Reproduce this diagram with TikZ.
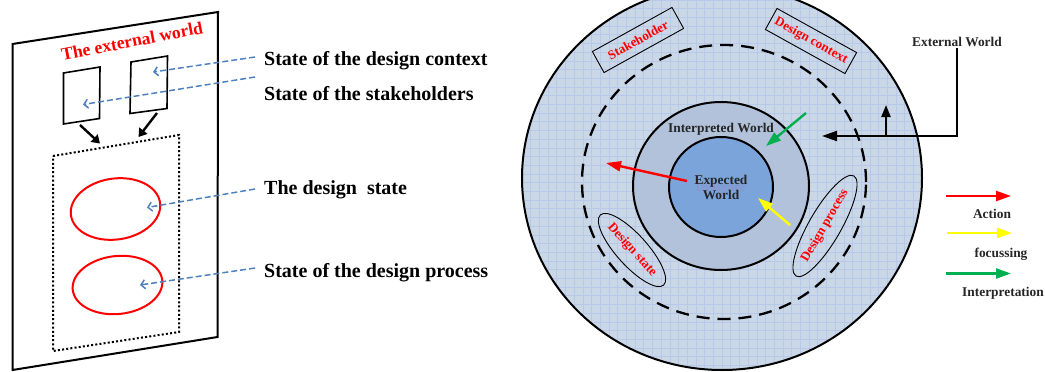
\documentclass[tikz,border=0pt]{standalone}
\usepackage{fontspec}
\setmainfont{Liberation Serif}
\usetikzlibrary{arrows.meta,shapes.geometric}
\definecolor{outerfill}{HTML}{CAD7E7}
\definecolor{gridc}{HTML}{B7C8E8}
\definecolor{interfill}{HTML}{B2C2DA}
\definecolor{expfill}{HTML}{7AA4DA}
\definecolor{dblue}{HTML}{4F81BD}
\definecolor{lred}{HTML}{FF0000}
\definecolor{lyellow}{HTML}{FFFF00}
\definecolor{lgreen}{HTML}{00B050}
\definecolor{ghost}{HTML}{8C95CC}
\begin{document}
\begin{tikzpicture}[x=1pt,y=-1pt,
  bigtext/.style={font=\bfseries\fontsize{20}{22}\selectfont, inner sep=0pt},
  lbl/.style={font=\bfseries\fontsize{13.4}{14.5}\selectfont, inner sep=1.5pt},
  redlbl/.style={font=\bfseries\fontsize{13}{14}\selectfont, text=lred, inner sep=0pt},
  bluearrow/.style={dblue, line width=1.5pt, dash pattern=on 6pt off 3pt, -{Straight Barb[length=4pt,width=9pt]}},
  blkarrow/.style={black, line width=2.4pt, -{Triangle[length=8pt,width=10pt]}},
  actarrow/.style={line width=2.4pt, -{Triangle[length=15pt,width=10pt]}},
  extline/.style={black, line width=2.2pt},
]
\useasboundingbox (0,0) rectangle (1045,372);

% ---------------- left panel ----------------
\draw[line width=2pt, line join=miter] (12.5,44) -- (218,12) -- (217.5,337) -- (12.5,370) -- cycle;
\node[font=\bfseries\fontsize{17.6}{18}\selectfont, text=lred, rotate=11, inner sep=0pt] (tew) at (132,41) {The external world};
\draw[line width=1.6pt] (63.5,73) -- (100,67) -- (99.5,118.5) -- (63.5,124) -- cycle;
\draw[line width=1.6pt] (131,62) -- (167.5,56) -- (167,108.5) -- (130,113.5) -- cycle;
\draw[line width=2pt, dash pattern=on 2pt off 2.2pt] (53,156) -- (179,135) -- (179,332) -- (53,351) -- cycle;
\node[draw=lred, ellipse, line width=2pt, rotate=8, minimum width=90pt, minimum height=61pt, inner sep=0pt] (e1) at (115.5,209) {};
\node[draw=lred, ellipse, line width=2pt, rotate=6, minimum width=90pt, minimum height=58pt, inner sep=0pt] (e2) at (117.5,285) {};

\coordinate (b1s) at (80,125);  \coordinate (b1e) at (100,143.5);
\coordinate (b2s) at (157,113); \coordinate (b2e) at (138.5,137);
\draw[blkarrow] (b1s) -- (b1e);
\draw[blkarrow] (b2s) -- (b2e);

\node[bigtext, anchor=base west] (t1) at (264,65) {State of the design context};
\node[bigtext, anchor=base west] (t2) at (264,100) {State of the stakeholders};
\node[bigtext, anchor=base west] (t3) at (264,194) {The design\ \ state};
\node[bigtext, anchor=base west] (t4) at (264,277) {State of the design process};

\coordinate (a1s) at (255,57);  \coordinate (a1e) at (153,72);
\coordinate (a2s) at (255,77);  \coordinate (a2e) at (83,104.5);
\coordinate (a3s) at (255,189); \coordinate (a3e) at (147,207.5);
\coordinate (a4s) at (255,268); \coordinate (a4e) at (140,285);
\draw[bluearrow] (a1s) -- (a1e);
\draw[bluearrow] (a2s) -- (a2e);
\draw[bluearrow] (a3s) -- (a3e);
\draw[bluearrow] (a4s) -- (a4e);

% ---------------- right panel ----------------
\fill[outerfill] (722,178) ellipse [x radius=200pt, y radius=192pt];
\begin{scope}
  \clip (722,178) ellipse [x radius=200pt, y radius=192pt];
  \draw[gridc, line width=0.8pt, step=8.7pt] (500,-20) grid (940,380);
\end{scope}
\draw[line width=2pt] (722,178) ellipse [x radius=200pt, y radius=192pt];
\draw[line width=2.3pt, dash pattern=on 13pt off 8pt] (724,182) ellipse [x radius=142pt, y radius=137pt];

\node[draw, ellipse, line width=2pt, fill=interfill, minimum width=176pt, minimum height=168pt, inner sep=0pt] (iw) at (721,186) {};
\node[draw, ellipse, line width=2pt, fill=expfill, minimum width=104pt, minimum height=100pt, inner sep=0pt] (ew) at (721,187) {};
\node[lbl, anchor=base, text=ghost] (dsg) at (721,191.5) {Designer};
\node[lbl, anchor=base, text=black!85] (iwt) at (721,132.5) {Interpreted World};
\node[lbl, align=center, text=black!85] (ewt) at (721,187.5) {Expected\\World};

\node[draw, line width=0.9pt, rotate=29, minimum width=91pt, minimum height=24pt, inner sep=0pt, redlbl] (sh) at (638,40) {Stakeholder};
\node[draw, line width=0.9pt, rotate=-29, minimum width=91pt, minimum height=24pt, inner sep=0pt, redlbl] (dc) at (811,41) {Design context};
\node[draw, ellipse, line width=0.9pt, rotate=-48, minimum width=86pt, minimum height=31pt, inner sep=0pt, redlbl] (ds) at (632,250) {Design state};
\node[draw, ellipse, line width=0.9pt, rotate=60, minimum width=94pt, minimum height=32pt, inner sep=0pt, redlbl] (dp) at (825,226) {Design process};

\coordinate (ra1) at (687,181); \coordinate (ra2) at (606,163);
\coordinate (ya1) at (790,225); \coordinate (ya2) at (758,198);
\coordinate (ga1) at (806,113); \coordinate (ga2) at (766,146);
\draw[actarrow, lred] (ra1) -- (ra2);
\draw[actarrow, lyellow] (ya1) -- (ya2);
\draw[actarrow, lgreen] (ga1) -- (ga2);

\node[lbl, anchor=base, text=black!85] (ext) at (957,46.5) {External World};
\coordinate (ec) at (957,136);
\coordinate (et) at (822,136);
\coordinate (eu) at (886,136);
\coordinate (eut) at (886,105);
\draw[extline, -{Triangle[length=15pt,width=10pt]}] (ext.south) -- (ec) -- (et);
\draw[extline, -{Triangle[length=12pt,width=9pt]}] (eu) -- (eut);

% legend
\coordinate (l1s) at (946,196); \coordinate (l1e) at (1011,196);
\coordinate (l2s) at (947,233); \coordinate (l2e) at (1012,233);
\coordinate (l3s) at (946,273.5); \coordinate (l3e) at (1011,273.5);
\draw[actarrow, lred] (l1s) -- (l1e);
\draw[actarrow, lyellow] (l2s) -- (l2e);
\draw[actarrow, lgreen] (l3s) -- (l3e);
\node[lbl, anchor=base, text=black!85] (lt1) at (992,218) {Action};
\node[lbl, anchor=base, text=black!85] (lt2) at (1001,257) {focussing};
\node[lbl, anchor=base, text=black!85] (lt3) at (1003,296) {Interpretation};
\end{tikzpicture}
\end{document}
